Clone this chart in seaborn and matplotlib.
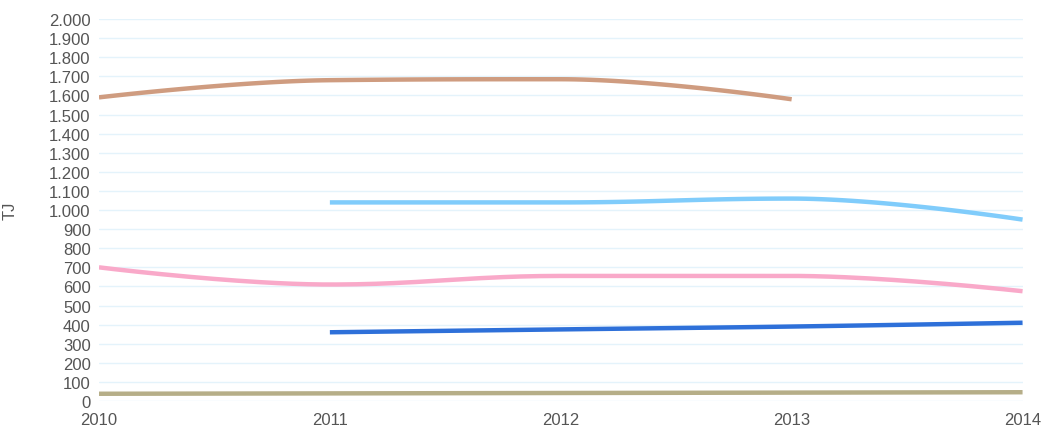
import matplotlib
matplotlib.use("Agg")
import matplotlib.pyplot as plt
from matplotlib.ticker import FuncFormatter, MultipleLocator
import seaborn as sns
import numpy as np
import pandas as pd

years = [2010, 2011, 2012, 2013, 2014]

brown = [1590, 1680, 1685, 1580, None]
light_blue = [None, 1040, 1040, 1060, 950]
pink = [700, 610, 655, 655, 575]
blue = [None, 360, 375, 390, 410]
olive = [38, 40, 42, 44, 46]

series = [
    ("brown", brown, "#cf9c80"),
    ("light_blue", light_blue, "#80ccfb"),
    ("pink", pink, "#f9a9c9"),
    ("blue", blue, "#2e70d9"),
    ("olive", olive, "#b6ae88"),
]


def spline_curve(xs, ys, smoothing=1.5, steps=40):
    # highcharts-like spline: cubic bezier segments between data points
    n = len(xs)
    left = [(xs[i], ys[i]) for i in range(n)]
    right = [(xs[i], ys[i]) for i in range(n)]
    denom = smoothing + 1
    for i in range(1, n - 1):
        px, py = xs[i], ys[i]
        lx, ly = xs[i - 1], ys[i - 1]
        nx, ny = xs[i + 1], ys[i + 1]
        lcx = (smoothing * px + lx) / denom
        lcy = (smoothing * py + ly) / denom
        rcx = (smoothing * px + nx) / denom
        rcy = (smoothing * py + ny) / denom
        corr = ((rcy - lcy) * (rcx - px)) / (rcx - lcx) + py - rcy
        lcy += corr
        rcy += corr
        if lcy > ly and lcy > py:
            lcy = max(ly, py)
            rcy = 2 * py - lcy
        elif lcy < ly and lcy < py:
            lcy = min(ly, py)
            rcy = 2 * py - lcy
        if rcy > ny and rcy > py:
            rcy = max(ny, py)
            lcy = 2 * py - rcy
        elif rcy < ny and rcy < py:
            rcy = min(ny, py)
            lcy = 2 * py - rcy
        left[i] = (lcx, lcy)
        right[i] = (rcx, rcy)
    t = np.linspace(0, 1, steps)
    cx, cy = [], []
    for i in range(n - 1):
        p0 = np.array([xs[i], ys[i]])
        p1 = np.array(right[i])
        p2 = np.array(left[i + 1])
        p3 = np.array([xs[i + 1], ys[i + 1]])
        pts = ((1 - t) ** 3)[:, None] * p0 + (3 * (1 - t) ** 2 * t)[:, None] * p1 \
            + (3 * (1 - t) * t ** 2)[:, None] * p2 + (t ** 3)[:, None] * p3
        cx.extend(pts[:, 0])
        cy.extend(pts[:, 1])
    return np.array(cx), np.array(cy)


sns.set_theme(style="white")
plt.rcParams['font.family'] = ['Liberation Sans', 'DejaVu Sans']

fig = plt.figure(figsize=(10.43, 4.27), dpi=100)
ax = fig.add_axes([0.0949, 0.0585, 0.8855, 0.8945])

for name, vals, color in series:
    xs = [y for y, v in zip(years, vals) if v is not None]
    ys = [v for v in vals if v is not None]
    cx, cy = spline_curve(xs, ys)
    df = pd.DataFrame({"x": cx, "y": cy})
    sns.lineplot(data=df, x="x", y="y", ax=ax, color=color, linewidth=3.2,
                 sort=False, estimator=None, solid_capstyle="butt")

ax.set_xlim(2010, 2014)
ax.set_ylim(0, 2000)
ax.yaxis.set_major_locator(MultipleLocator(100))
ax.xaxis.set_major_locator(MultipleLocator(1))
ax.yaxis.set_major_formatter(FuncFormatter(lambda v, p: f"{int(v):,}".replace(",", ".")))
ax.xaxis.set_major_formatter(FuncFormatter(lambda v, p: f"{int(v)}"))
ax.grid(axis="y", color="#e4f3fb", linewidth=1)
ax.set_axisbelow(True)
for s in ax.spines.values():
    s.set_visible(False)
ax.tick_params(axis="both", length=0, labelsize=12, labelcolor="#555555")
ax.tick_params(axis="y", pad=6)
ax.tick_params(axis="x", pad=8)
ax.set_xlabel("")
ax.set_ylabel("TJ", fontsize=12, color="#555555")
ax.yaxis.set_label_coords(-0.088, 0.5)

fig.savefig("out.png", dpi=100)
